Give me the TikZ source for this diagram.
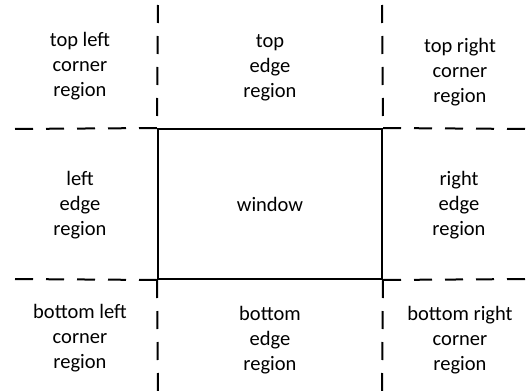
\documentclass[tikz,border=0pt]{standalone}
\usepackage{fontspec}
\setmainfont{Carlito}
\usepackage{xcolor}
\usetikzlibrary{positioning}
\tikzset{
  regiao/.style={align=center,inner sep=0pt,
    font=\fontsize{20.5}{25}\selectfont},
  janela/.style={draw,line width=2pt,minimum width=224pt,minimum height=150pt,
    inner sep=0pt,font=\fontsize{20.5}{25}\selectfont},
  tracejado/.style={line width=2pt,dash pattern=on 18pt off 13pt}
}
\begin{document}
\begin{tikzpicture}[x=1pt,y=-1pt]
\useasboundingbox (0,0) rectangle (528,391);
% janela central
\node[janela] (win) at (270,204) {window};
% pontas livres das linhas tracejadas
\coordinate (cimaE) at (158,5);
\coordinate (cimaD) at (382,5);
\coordinate (baixoE) at (158,391);
\coordinate (baixoD) at (382,391);
\coordinate (esqC) at (13,129);
\coordinate (esqB) at (13,279);
\coordinate (dirC) at (528,129);
\coordinate (dirB) at (528,279);
\draw[tracejado] (cimaE) -- (win.north west);
\draw[tracejado] (cimaD) -- (win.north east);
\draw[tracejado] (win.south west) -- (baixoE);
\draw[tracejado] (win.south east) -- (baixoD);
\draw[tracejado] (win.north west) -- (esqC);
\draw[tracejado] (win.south west) -- (esqB);
\draw[tracejado] (win.north east) -- (dirC);
\draw[tracejado] (win.south east) -- (dirB);
% regioes
\node[regiao] (tl) at (80,66) {top left\\corner\\region};
\node[regiao] (t) at (270,68) {top\\edge\\region};
\node[regiao] (tr) at (460,72) {top right\\corner\\region};
\node[regiao] (l) at (80,205) {left\\edge\\region};
\node[regiao] (r) at (459,205) {right\\edge\\region};
\node[regiao] (bl) at (80,338) {bottom left\\corner\\region};
\node[regiao] (b) at (270,340) {bottom\\edge\\region};
\node[regiao] (br) at (460,340) {bottom right\\corner\\region};
\end{tikzpicture}
\end{document}
